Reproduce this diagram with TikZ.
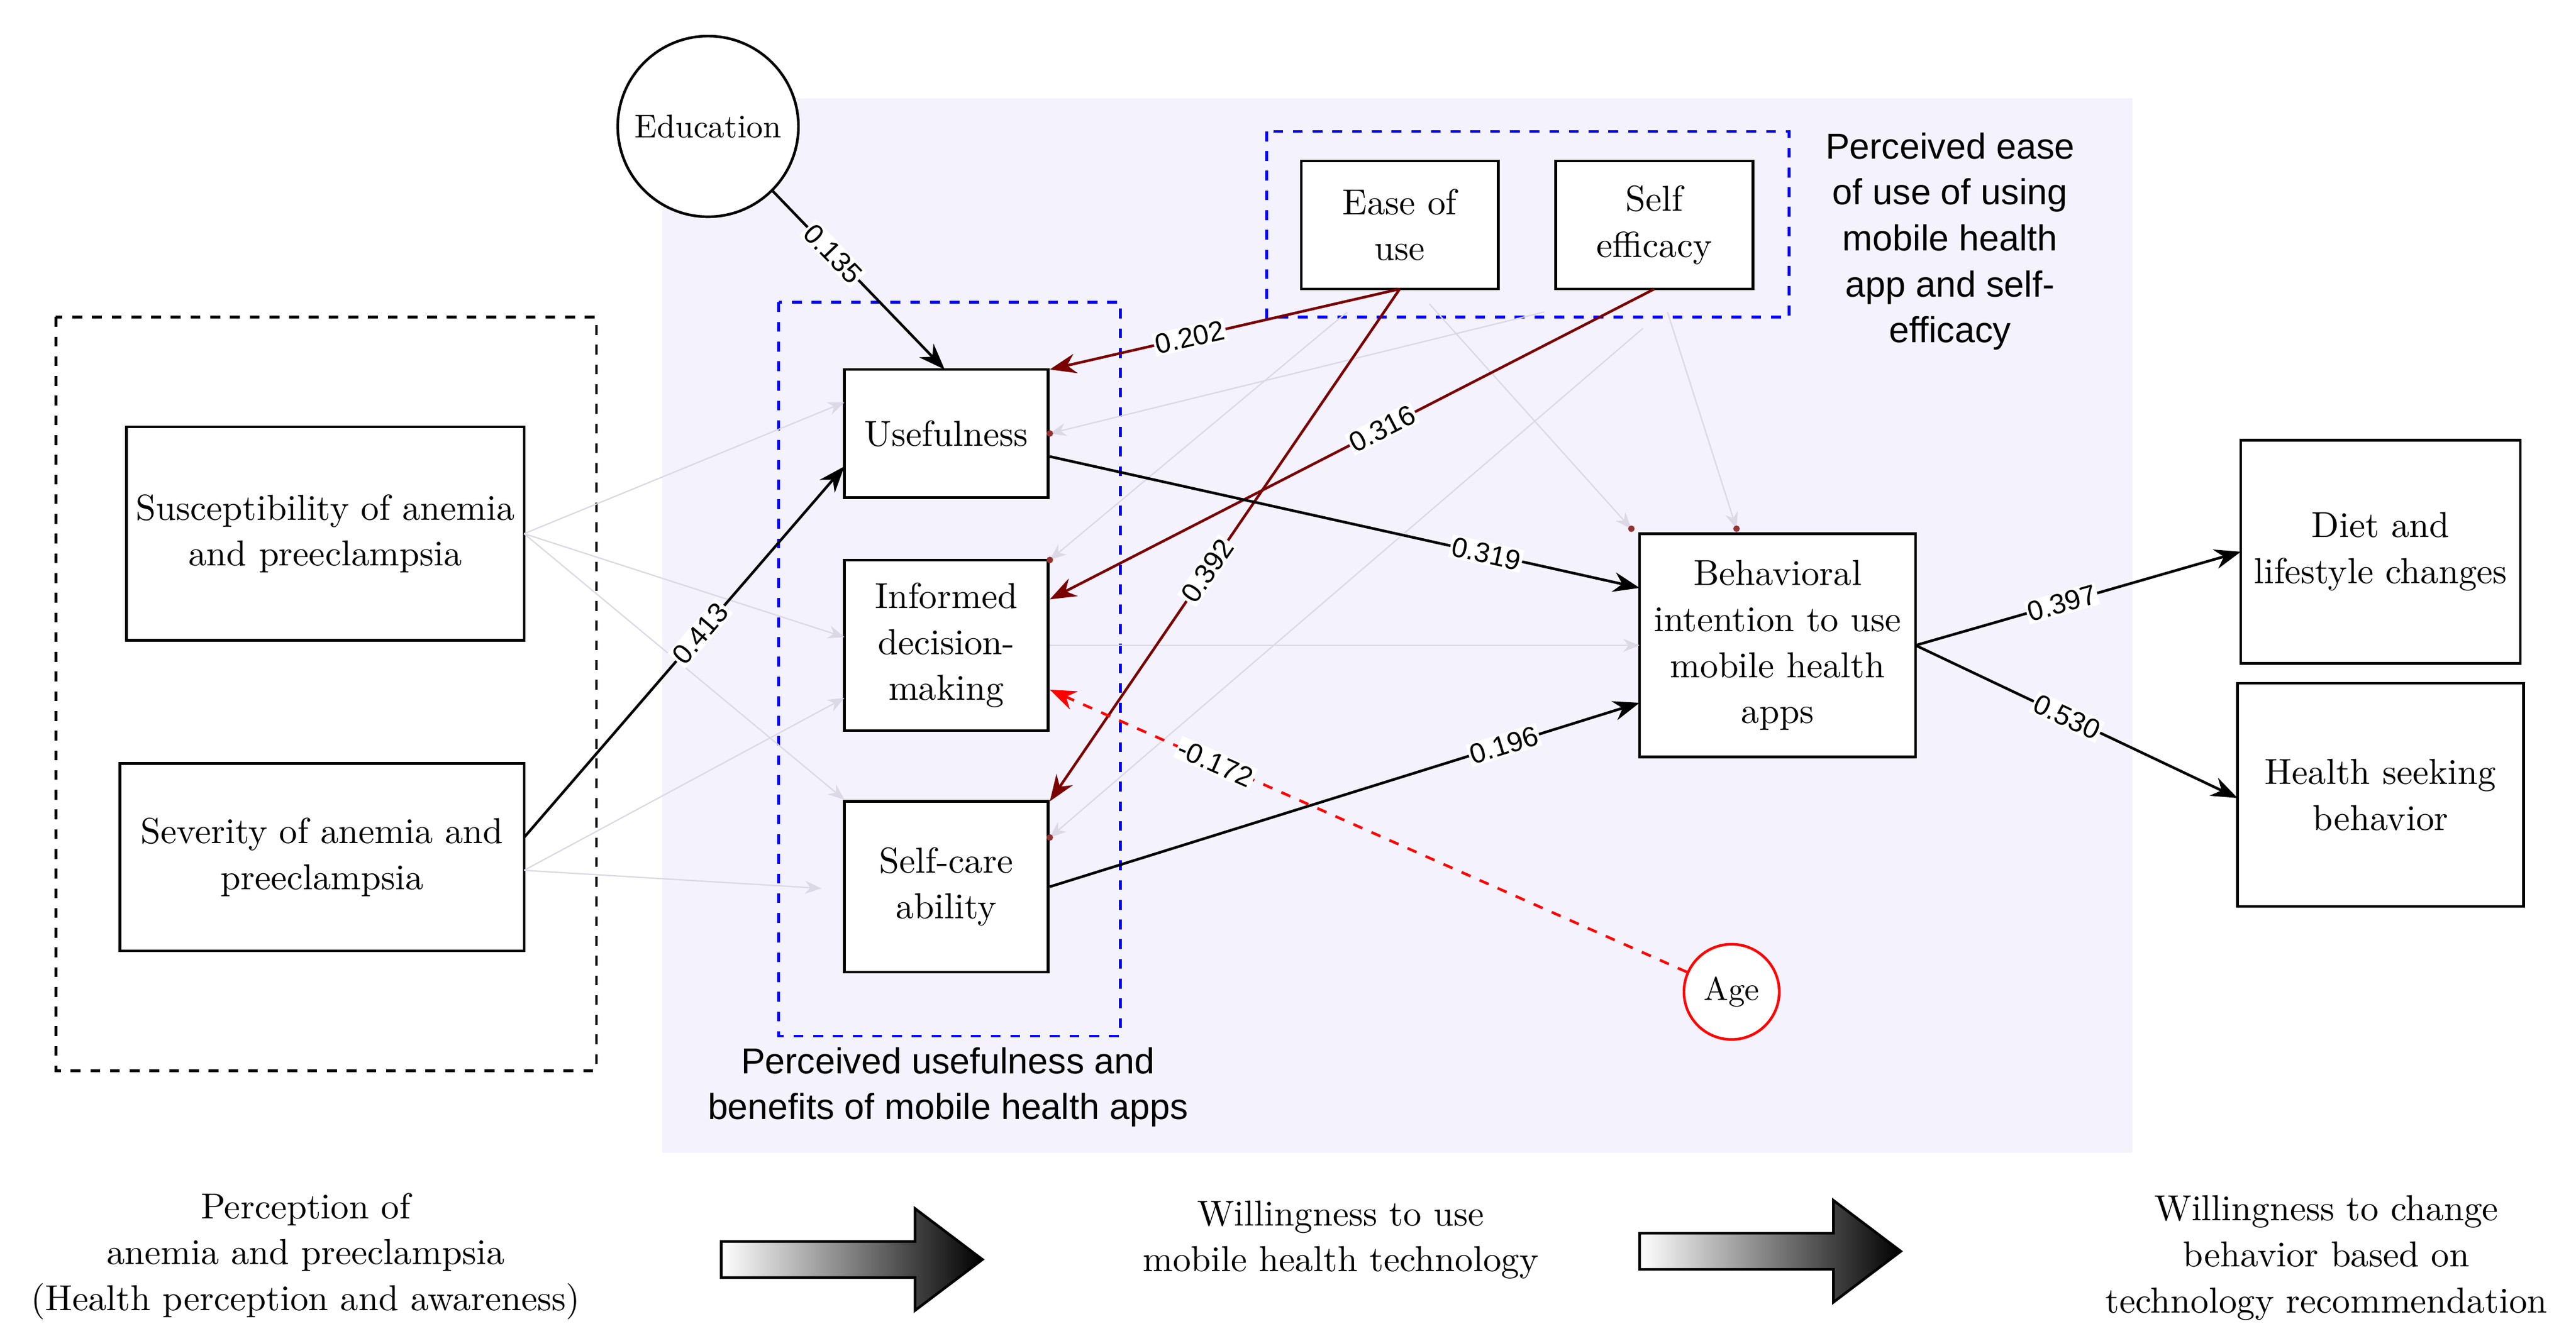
\documentclass[tikz,border=0pt]{standalone}
\usepackage{fontspec}
\setmainfont{Latin Modern Roman}
\newfontfamily\sansf{Liberation Sans}
\usetikzlibrary{arrows.meta}
\definecolor{bg}{HTML}{F4F2FD}
\definecolor{dred}{HTML}{7A0000}
\definecolor{faint}{HTML}{DCD8E6}
\begin{document}
\begin{tikzpicture}[x=0.5pt,y=-0.5pt,
 box/.style={draw,thick,fill=white,align=center,font=\fontsize{11}{14}\selectfont,inner sep=0},
 lbl/.style={fill=white,inner sep=0.5pt,font=\sansf\fontsize{8.5}{9}\selectfont,sloped,text=black},
 ar/.style={-{Stealth[length=8pt,width=6pt]},thick},
 dar/.style={-{Stealth[length=8pt,width=6pt]},thick,dred},
 fa/.style={-{Stealth[length=5pt,width=4pt]},faint},
 captxt/.style={font=\sansf\fontsize{11}{14}\selectfont,align=center},
 bot/.style={font=\fontsize{11}{14}\selectfont,align=center}]
\useasboundingbox (0,0) rectangle (1568,816.6);
\fill[bg] (403,60) rectangle (1298,702);
\draw[dashed,thick] (34,193) rectangle (363,652);
\draw[dashed,thick,blue] (474,184) rectangle (682,631);
\draw[dashed,thick,blue] (771,80) rectangle (1089,193);
\node[draw,thick,circle,fill=white,minimum size=55pt,inner sep=0,font=\fontsize{10}{12}\selectfont] (edu) at (431,77) {Education};
\node[box,minimum width=121,minimum height=65] (sus) at (198,325) {Susceptibility of anemia\\and preeclampsia};
\node[box,minimum width=123,minimum height=57] (sev) at (196,522) {Severity of anemia and\\preeclampsia};
\node[box,minimum width=62,minimum height=39] (use) at (576,264) {Usefulness};
\node[box,minimum width=62,minimum height=52] (inf) at (576,393) {Informed\\decision-\\making};
\node[box,minimum width=62,minimum height=52] (self) at (576,540) {Self-care\\ability};
\node[box,minimum width=60,minimum height=39] (ease) at (852,137) {Ease of\\use};
\node[box,minimum width=60,minimum height=39] (eff) at (1007,137) {Self\\efficacy};
\node[box,minimum width=84,minimum height=68] (beh) at (1082,393) {Behavioral\\intention to use\\mobile health\\apps};
\node[box,minimum width=85,minimum height=68] (diet) at (1449,336) {Diet and\\lifestyle changes};
\node[box,minimum width=87,minimum height=68] (hs) at (1449,484) {Health seeking\\behavior};
\node[draw=red,thick,circle,fill=white,minimum size=29pt,inner sep=0,font=\fontsize{10}{12}\selectfont] (age) at (1054,604) {Age};
\node[captxt] at (1187,147) {Perceived ease\\of use of using\\mobile health\\app and self-\\efficacy};
\node[captxt] at (577,662) {Perceived usefulness and\\benefits of mobile health apps};
\node[bot] at (186,765) {Perception of\\anemia and preeclampsia\\(Health perception and awareness)};
\node[bot] at (816,755) {Willingness to use\\mobile health technology};
\node[bot] at (1416,766) {Willingness to change\\behavior based on\\technology recommendation};
% faint
\draw[fa] (319,325) -- (514,245);
\draw[fa] (319,325) -- (514,388);
\draw[fa] (319,325) -- (514,487);
\draw[fa] (319,530) -- (514,425);
\draw[fa] (319,530) -- (500,541);
\draw[fa] (639,393) -- (998,393);
\draw[fa] (940,190) -- (639,264);
\draw[fa] (820,190) -- (639,341);
\draw[fa] (1000,200) -- (639,510);
\draw[fa] (870,185) -- (993,322);
\draw[fa] (1015,190) -- (1057,322);
\foreach \p in {(639,264),(639,341),(639,510),(993,322),(1057,322)} \fill[dred!80] \p circle (2);
% main
\draw[ar] (edu.-45) -- node[lbl,pos=0.35]{0.135} (575,225);
\draw[dar] (852,176) -- node[lbl,pos=0.6]{0.202} (639,225);
\draw[dar] (852,176) -- node[lbl,pos=0.55]{0.392} (639,488);
\draw[dar] (1007,176) -- node[lbl,pos=0.45]{0.316} (639,365);
\draw[ar] (319,510) -- node[lbl,pos=0.55]{0.413} (514,284);
\draw[ar] (639,278) -- node[lbl,pos=0.74]{0.319} (998,358);
\draw[ar] (639,540) -- node[lbl,pos=0.77]{0.196} (998,428);
\draw[ar] (1166,393) -- node[lbl,pos=0.45]{0.397} (1364,336);
\draw[ar] (1166,393) -- node[lbl,pos=0.47]{0.530} (1362,486);
\draw[-{Stealth[length=8pt,width=6pt]},thick,red,dashed] (age) -- node[lbl,pos=0.74]{-0.172} (639,420);
% big arrows
\foreach \x/\y in {439/767,998/762}{
 \shade[left color=white,right color=black,draw=black,thick]
 (\x,\y-11) -- (\x+118,\y-11) -- (\x+118,\y-31) -- (\x+159,\y) -- (\x+118,\y+31) -- (\x+118,\y+11) -- (\x,\y+11) -- cycle;}
\end{tikzpicture}
\end{document}
